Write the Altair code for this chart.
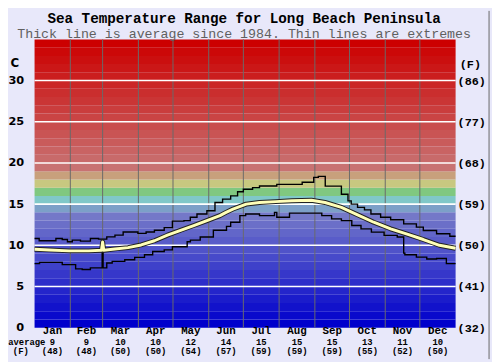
import altair as alt
import pandas as pd

# ---------------- data ----------------
months = ["Jan", "Feb", "Mar", "Apr", "May", "Jun", "Jul", "Aug", "Sep", "Oct", "Nov", "Dec"]
month_days = [31, 28, 31, 30, 31, 30, 31, 31, 30, 31, 30, 31]
avg_c = [9, 9, 10, 10, 12, 14, 15, 15, 15, 13, 11, 10]
avg_f = [48, 48, 50, 50, 54, 57, 59, 59, 59, 55, 52, 50]

max_day = [0, 4, 18.5, 24, 28.5, 32.7, 39.8, 48.4, 55.5, 62.6, 69.7, 76.8, 89.6, 96.7, 103.9,
           112.4, 119.5, 129.5, 135, 140.8, 149.4, 156.4, 163, 170, 176, 181, 189, 195, 210,
           232, 242, 246, 252, 266, 271.7, 274.5, 280, 286, 291.6, 300, 308.7, 320, 331,
           337, 348.5, 360, 365]
max_val = [10.83, 10.55, 10.83, 10.7, 10.43, 10.63, 10.5, 10.83, 10.75, 11.02, 11.23, 11.62, 11.45,
           11.62, 11.82, 12.14, 12.93, 13.0, 13.4, 13.8, 14.2, 15.2, 15.6, 16.0, 16.5, 16.8, 17.0,
           17.2, 17.4, 17.65, 18.25, 18.37, 17.18, 16.2, 15.4, 15.0, 14.6, 14.3, 13.8, 13.4, 13.1,
           12.6, 12.2, 11.8, 11.4, 11.1, 11.1]

min_day = [0, 4.3, 24, 35.6, 41.3, 48.4, 58.6, 59.4, 62.6, 67.3, 78.2, 86.8, 95.3, 102.4, 112.4,
           119.5, 132.3, 135.1, 143.6, 155, 166.4, 170, 178, 183, 195, 208, 210, 221, 249,
           257.5, 266, 275, 283, 292, 303, 314.4, 320, 321, 331, 340, 348.5, 357, 365]
min_val = [7.77, 7.93, 7.65, 7.14, 7.06, 7.26, 10.4, 7.26, 7.85, 8.05, 8.25, 8.53, 8.85, 9.24, 9.44,
           9.83, 10.43, 10.63, 11.0, 11.82, 12.3, 12.8, 13.6, 13.8, 13.6, 14.0, 13.4, 13.9, 13.6,
           13.2, 13.0, 12.4, 12.0, 11.6, 11.2, 11.0, 9.05, 8.85, 8.57, 8.33, 8.4, 7.77, 7.77]

avg_day = [0, 12.8, 29.9, 46.9, 58, 59, 60, 69.7, 81, 92.4, 103.9, 115.2, 126.6, 138, 149.4,
           160.7, 166, 172, 183.5, 195, 209, 223, 240, 251.8, 266, 280, 294, 308.7, 323, 337,
           351, 365]
avg_val = [9.52, 9.44, 9.32, 9.32, 9.4, 10.4, 9.4, 9.56, 9.72, 10.04, 10.55, 11.23, 11.82, 12.4,
           13.0, 13.6, 14.0, 14.4, 15.0, 15.2, 15.3, 15.4, 15.47, 15.2, 14.6, 13.7, 12.8, 12.0,
           11.35, 10.7, 10.0, 9.64]

grid_c = [5, 10, 15, 20, 25, 30]
axis_c = [0, 5, 10, 15, 20, 25, 30]
band_lo = list(range(35))
color_stops = [0.5, 13.5, 14.5, 15.5, 16.5, 17.5, 18.5, 19.5, 34.5]
color_range = ["#0000cc", "#7478c8", "#7ca0c8", "#80c8c8", "#80c880", "#c8c880",
               "#c8a07c", "#c87272", "#cc0000"]

title_text = "Sea Temperature Range for Long Beach Peninsula"
subtitle_text = "Thick line is average since 1984. Thin lines are extremes"

# ---------------- frames ----------------
bounds = pd.Series(month_days).cumsum().tolist()
starts = [0] + bounds[:-1]
mdf = pd.DataFrame({
    "name": months,
    "mid": [(s + e) / 2 for s, e in zip(starts, bounds)],
    "c": [str(v) for v in avg_c],
    "f": ["(" + str(v) + ")" for v in avg_f],
})
bdf = pd.DataFrame({"b": bounds[:-1]})
band_df = pd.DataFrame({"lo": band_lo, "hi": [v + 1 for v in band_lo],
                        "mid": [v + 0.5 for v in band_lo]})
grid_df = pd.DataFrame({"v": grid_c})
fax_df = pd.DataFrame({"v": axis_c, "t": ["(" + str(round(v * 9 / 5 + 32)) + ")" for v in axis_c]})
max_df = pd.DataFrame({"d": max_day, "v": max_val})
min_df = pd.DataFrame({"d": min_day, "v": min_val})
avg_df = pd.DataFrame({"d": avg_day, "v": avg_val})

W, H = 428, 293
xs = alt.Scale(domain=[0, 365], nice=False, zero=False)
ys = alt.Scale(domain=[0, 35], nice=False)
mono = "Liberation Mono"

yax = alt.Axis(orient="left", values=axis_c, ticks=False, tickSize=0, domain=False, grid=False,
               labelPadding=11, labelFont="DejaVu Sans", labelFontWeight="bold",
               labelFontSize=11.5, labelColor="black", title=None)


def Y(f):
    return alt.Y(f, scale=ys, axis=yax)


def X(f):
    return alt.X(f, scale=xs, axis=None)


bands = alt.Chart(band_df).mark_rect(strokeWidth=0).encode(
    x=alt.value(0),
    x2=alt.value(W),
    y=Y("lo:Q"),
    y2="hi:Q",
    color=alt.Color("mid:Q", scale=alt.Scale(domain=color_stops, range=color_range,
                                             interpolate="rgb"), legend=None),
)

vlines = alt.Chart(bdf).mark_rule(color="#6a6a6a", strokeWidth=1).encode(
    x=X("b:Q"), y=alt.value(0), y2=alt.value(H))

hlines = alt.Chart(grid_df).mark_rule(color="white", strokeWidth=1.6).encode(
    y=Y("v:Q"), x=alt.value(0), x2=alt.value(W))

flabels = alt.Chart(fax_df).mark_text(font=mono, fontWeight="bold", fontSize=12,
                                      align="left", baseline="middle").encode(
    y=Y("v:Q"), x=alt.value(W + 2), text="t:N")

maxl = alt.Chart(max_df).mark_line(color="black", strokeWidth=1.4, interpolate="step-after").encode(
    x=X("d:Q"), y=Y("v:Q"))
minl = alt.Chart(min_df).mark_line(color="black", strokeWidth=1.4, interpolate="step-after").encode(
    x=X("d:Q"), y=Y("v:Q"))
avg_out = alt.Chart(avg_df).mark_line(color="#222222", strokeWidth=5, strokeJoin="round").encode(
    x=X("d:Q"), y=Y("v:Q"))
avg_in = alt.Chart(avg_df).mark_line(color="#ffffb8", strokeWidth=3, strokeJoin="round").encode(
    x=X("d:Q"), y=Y("v:Q"))

m_name = alt.Chart(mdf).mark_text(font=mono, fontWeight="bold", fontSize=11, baseline="alphabetic").encode(
    x=X("mid:Q"), y=alt.value(299.5), text="name:N")
m_c = alt.Chart(mdf).mark_text(font=mono, fontWeight="bold", fontSize=9, baseline="alphabetic").encode(
    x=X("mid:Q"), y=alt.value(310.3), text="c:N")
m_f = alt.Chart(mdf).mark_text(font=mono, fontWeight="bold", fontSize=9, baseline="alphabetic").encode(
    x=X("mid:Q"), y=alt.value(320.3), text="f:N")


def label(txt, x, y, **kw):
    return alt.Chart(pd.DataFrame({"t": [txt]})).mark_text(**kw).encode(
        x=alt.value(x), y=alt.value(y), text="t:N")


t1 = label(title_text, 213, -16.8, font=mono, fontWeight="bold", fontSize=14.5, baseline="alphabetic")
t2 = label(subtitle_text, 213, -1.15, font=mono, fontSize=13.5, color="#606060", baseline="alphabetic")
tc = label("C", -20, 24, font="DejaVu Sans", fontWeight="bold", fontSize=12, baseline="middle")
tf = label("(F)", 443, 25, font=mono, fontWeight="bold", fontSize=12, baseline="middle")
ta = label("average", 11, 310.3, font=mono, fontWeight="bold", fontSize=9, align="right", baseline="alphabetic")
tf2 = label("(F)", -14, 320.3, font=mono, fontWeight="bold", fontSize=9, baseline="alphabetic")

border = alt.Chart(pd.DataFrame({"a": [0]})).mark_rule(color="#666666", strokeWidth=1).encode(
    x=alt.value(462), y=alt.value(-29), y2=alt.value(325))

chart = alt.layer(
    bands, vlines, hlines, flabels, maxl, minl, avg_out, avg_in,
    m_name, m_c, m_f, t1, t2, tc, tf, ta, tf2, border
).properties(
    width=W, height=H,
    background="#e8e8fa",
    padding={"left": 27, "top": 29, "right": 37, "bottom": 32},
    autosize=alt.AutoSizeParams(type="none"),
).configure_view(strokeWidth=0)

chart.save("out.html", embed_options={"renderer": "svg", "actions": False})
